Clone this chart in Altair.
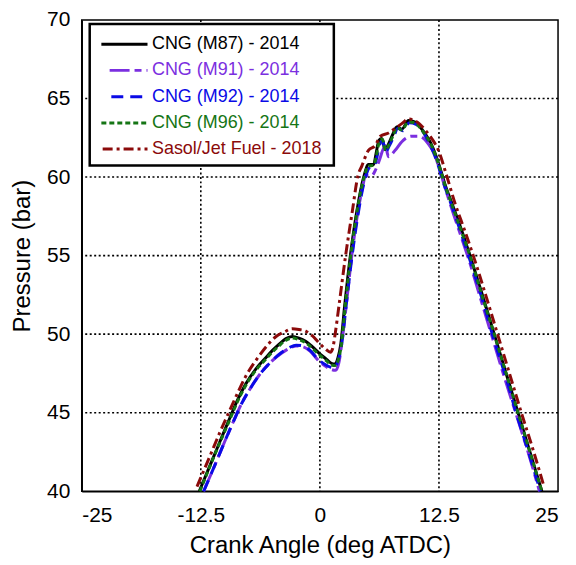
import altair as alt
import pandas as pd

FONT = "Liberation Sans"

# ---- data ----
names = ["CNG (M87) - 2014", "CNG (M91) - 2014", "CNG (M92) - 2014",
         "CNG (M96) - 2014", "Sasol/Jet Fuel - 2018"]
colors = ["#000000", "#7B2FE0", "#0A0AE6", "#157515", "#8B0A0A"]
x_ticks = [-25, -12.5, 0, 12.5, 25]
y_ticks = [40, 45, 50, 55, 60, 65, 70]
x_grid = [-12.5, 0, 12.5]
y_grid = [45, 50, 55, 60, 65]

x_m87 = [-12.66, -11.5, -10.5, -9.5, -8.65, -7.77, -6.73, -5.68, -5.0, -4.3, -3.6, -2.9, -2.2, -1.5,
         -0.8, -0.1, 0.7, 1.2, 1.55, 1.9, 2.2, 2.6, 3.2, 3.9, 4.6, 5.1, 5.65, 5.9, 6.2, 6.5, 6.87, 7.2,
         7.6, 8.1, 8.6, 9.3, 10.0, 10.5, 11.05, 11.6, 12.1, 12.6, 13.1, 14.0, 15.0, 15.76, 17.0, 18.3,
         19.5, 20.8, 22.0, 23.3]
p_m87 = [40.0, 41.7, 43.15, 44.6, 45.8, 46.84, 47.78, 48.5, 48.95, 49.35, 49.7, 49.85, 49.75, 49.55,
         49.2, 48.8, 48.4, 48.15, 48.1, 48.5, 49.4, 51.8, 55.0, 57.9, 60.0, 60.8, 60.8, 61.5, 62.35, 62.45,
         61.75, 62.1, 62.65, 63.2, 63.05, 63.6, 63.5, 63.2, 62.75, 62.2, 61.5, 60.6, 59.6, 58.1, 56.4, 55.0,
         52.6, 50.0, 47.6, 45.0, 42.6, 40.0]

x_m91 = [-12.2, -11.0, -10.0, -9.0, -8.2, -7.3, -6.3, -5.2, -4.0, -3.2, -2.5, -1.8, -1.0, -0.2, 0.6,
         1.2, 1.65, 2.0, 2.4, 2.8, 3.35, 4.0, 4.5, 4.8, 5.45, 5.8, 6.2, 6.87, 7.2, 7.9, 8.6, 9.6, 10.4,
         11.4, 12.0, 12.45, 13.1, 14.0, 15.0, 15.5, 17.0, 18.0, 19.5, 20.55, 22.0, 23.05]
p_m91 = [40.0, 41.7, 43.15, 44.55, 45.6, 46.55, 47.45, 48.2, 48.8, 49.1, 49.25, 49.2, 48.9, 48.35, 47.95,
         47.75, 47.7, 48.2, 49.9, 52.0, 55.0, 57.8, 59.4, 60.1, 60.1, 60.4, 61.0, 62.0, 61.3, 61.7, 62.25,
         62.6, 62.6, 62.1, 61.5, 60.7, 59.4, 57.7, 55.9, 55.0, 52.0, 50.0, 47.0, 45.0, 42.2, 40.0]

x_m92 = [-12.2, -11.0, -10.0, -9.0, -8.2, -7.3, -6.3, -5.2, -4.0, -3.2, -2.5, -1.8, -1.0, -0.2, 0.6,
         1.1, 1.5, 1.9, 2.3, 2.7, 3.3, 4.0, 4.7, 5.2, 5.7, 6.0, 6.3, 6.6, 6.9, 7.3, 7.7, 8.2, 8.7, 9.4,
         10.1, 10.6, 11.1, 11.6, 12.1, 12.6, 13.0, 14.0, 15.0, 15.6, 17.0, 18.1, 19.5, 20.6, 22.0, 23.15]
p_m92 = [40.0, 41.7, 43.15, 44.55, 45.6, 46.55, 47.45, 48.2, 48.85, 49.15, 49.3, 49.25, 48.95, 48.4, 48.05,
         47.9, 47.85, 48.3, 49.4, 51.5, 54.6, 57.6, 59.8, 60.6, 60.7, 61.3, 62.1, 62.3, 61.6, 62.0, 62.5,
         63.1, 62.95, 63.45, 63.35, 63.1, 62.6, 62.0, 61.3, 60.4, 59.6, 57.9, 56.1, 55.0, 52.3, 50.0, 47.3,
         45.0, 42.3, 40.0]

x_m96 = [-12.6, -11.5, -10.5, -9.5, -8.65, -7.77, -6.73, -5.68, -5.0, -4.3, -3.6, -2.9, -2.2, -1.5,
         -0.8, -0.1, 0.7, 1.2, 1.6, 1.95, 2.25, 2.65, 3.2, 3.9, 4.6, 5.1, 5.65, 5.95, 6.25, 6.55, 6.9,
         7.25, 7.65, 8.1, 8.6, 9.3, 10.0, 10.5, 11.05, 11.6, 12.1, 12.6, 13.1, 14.0, 15.0, 15.75, 17.0,
         18.3, 19.5, 20.8, 22.0, 23.3]
p_m96 = [40.0, 41.65, 43.1, 44.5, 45.7, 46.75, 47.7, 48.4, 48.85, 49.25, 49.6, 49.75, 49.65, 49.45,
         49.1, 48.7, 48.3, 48.05, 48.0, 48.4, 49.3, 51.7, 54.8, 57.8, 59.9, 60.7, 60.75, 61.4, 62.25, 62.4,
         61.7, 62.05, 62.6, 63.15, 63.0, 63.5, 63.45, 63.15, 62.7, 62.15, 61.45, 60.55, 59.55, 58.0, 56.3,
         55.0, 52.5, 50.0, 47.6, 45.0, 42.6, 40.0]

x_jet = [-12.9, -11.5, -10.5, -9.5, -8.6, -7.8, -6.4, -5.5, -4.6, -3.7, -2.9, -2.2, -1.5, -0.8, -0.1,
         0.6, 1.1, 1.35, 1.6, 2.0, 2.7, 3.4, 4.0, 4.4, 5.1, 5.8, 6.35, 7.2, 7.9, 8.6, 9.3, 10.2, 11.05,
         11.8, 12.45, 13.3, 14.2, 15.2, 16.1, 17.4, 18.65, 19.9, 21.15, 22.4, 23.55]
p_jet = [40.3, 42.3, 43.75, 45.1, 46.3, 47.3, 48.6, 49.3, 49.85, 50.15, 50.35, 50.3, 50.2, 49.9, 49.45,
         49.05, 48.85, 49.1, 50.0, 51.8, 55.0, 57.8, 60.1, 60.7, 61.7, 62.0, 62.6, 62.8, 63.1, 63.4, 63.7,
         63.5, 63.0, 62.4, 61.7, 60.1, 58.3, 56.6, 55.0, 52.5, 50.0, 47.5, 45.0, 42.6, 40.25]

xs_all = [x_m87, x_m91, x_m92, x_m96, x_jet]
ps_all = [p_m87, p_m91, p_m92, p_m96, p_jet]

# ---- styles ----
dashes = [None, [20, 5, 7, 5], [12, 7], [5, 3], [10, 4, 3, 4]]
widths = [3, 3, 3, 3, 3]

TOP = 11          # plot top offset inside the svg
H = 484 - TOP     # plot bottom at page y = 492

x_scale = alt.Scale(domain=[-25, 25], nice=False, zero=False)
y_scale = alt.Scale(domain=[40, 70], nice=False, zero=False)
x_enc = alt.X("angle:Q", scale=x_scale,
              axis=alt.Axis(values=x_ticks, title="Crank Angle (deg ATDC)", grid=False,
                            labelExpr="datum.value + ''", labelPadding=13,
                            titlePadding=8))
y_enc = alt.Y("pressure:Q", scale=y_scale,
              axis=alt.Axis(values=y_ticks, title="Pressure (bar)", grid=False,
                            labelPadding=12, titlePadding=12))

layers = []
# dotted grid
grid_style = dict(color="black", strokeWidth=1.6, strokeDash=[2, 2.5], strokeCap="butt")
layers.append(alt.Chart(pd.DataFrame({"angle": x_grid})).mark_rule(**grid_style).encode(
    x=alt.X("angle:Q", scale=x_scale)))
layers.append(alt.Chart(pd.DataFrame({"pressure": y_grid})).mark_rule(**grid_style).encode(
    y=alt.Y("pressure:Q", scale=y_scale)))

for name, xs, ps, col, dash, w in zip(names, xs_all, ps_all, colors, dashes, widths):
    df = pd.DataFrame({"angle": xs, "pressure": ps, "series": name})
    mk = dict(color=col, strokeWidth=w, interpolate="monotone")
    if dash:
        mk["strokeDash"] = dash
    layers.append(alt.Chart(df).mark_line(**mk).encode(x=x_enc, y=y_enc))

# ---- legend box drawn in pixel space (page y minus 8 margin minus TOP) ----
off = 8 + TOP
one = pd.DataFrame({"k": [0]})
layers.append(alt.Chart(one).mark_rect(fill="white", stroke="black", strokeWidth=2.5).encode(
    x=alt.value(8), x2=alt.value(253), y=alt.value(23 - off), y2=alt.value(165 - off)))
row_y = [43.3, 69.6, 96.0, 122.3, 148.6]
rule_x0 = [19.7, 28.0, 29.7, 19.7, 21.0]
for name, col, dash, ry, rx0 in zip(names, colors, dashes, row_y, rule_x0):
    rk = dict(color=col, strokeWidth=3)
    if dash:
        rk["strokeDash"] = dash
    layers.append(alt.Chart(one).mark_rule(**rk).encode(
        x=alt.value(rx0), x2=alt.value(66), y=alt.value(ry - off)))
    layers.append(alt.Chart(one).mark_text(text=name, align="left", baseline="middle",
                                           font=FONT, fontSize=18, color=col).encode(
        x=alt.value(70.5), y=alt.value(ry - off)))

chart = alt.layer(*layers).properties(
    width=478, height=H,
    autosize=alt.AutoSizeParams(type="none"),
    padding={"left": 74, "top": TOP, "right": 10, "bottom": 73},
).configure_view(
    stroke="black", strokeWidth=1.5
).configure_axis(
    labelFont=FONT, titleFont=FONT, labelFontSize=21, titleFontSize=24,
    titleFontWeight="normal", labelColor="black", titleColor="black",
    domainColor="black", domainWidth=1.5, ticks=False,
)

chart.save("out.html", embed_options={"renderer": "svg", "actions": False})
